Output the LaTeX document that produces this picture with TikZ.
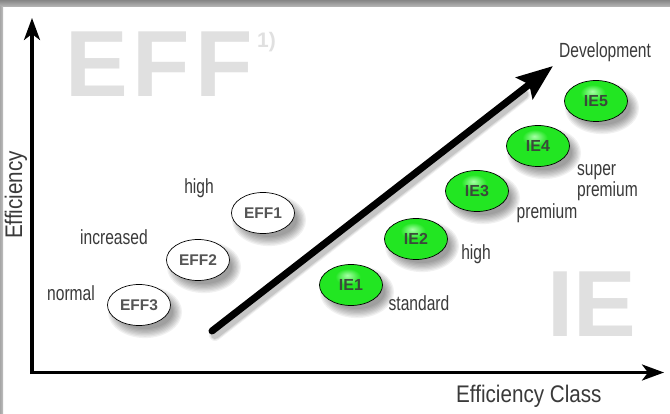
\documentclass[tikz,border=0pt]{standalone}
\usepackage{fontspec}
\setmainfont{Liberation Sans}
\newfontfamily\labelfont[FakeStretch=0.76]{Liberation Sans}
\newfontfamily\axisfont[FakeStretch=0.86]{Liberation Sans}
\newfontfamily\wmfont[LetterSpace=5.5]{Liberation Sans}
\usetikzlibrary{arrows.meta,shapes.geometric,calc}
\definecolor{txt}{HTML}{3A3A3A}
\definecolor{wm}{HTML}{E0E0E0}
\definecolor{efftxt}{HTML}{555555}
\definecolor{ietxt}{HTML}{3A4A3A}
\definecolor{gLight}{HTML}{A6FFA6}
\definecolor{gMain}{HTML}{22E622}
\definecolor{gDark}{HTML}{0B8A0B}
\definecolor{gEdge}{HTML}{054005}
\pgfdeclareradialshading{greenball}{\pgfpoint{-3bp}{12bp}}{color(0bp)=(gLight); color(10bp)=(gMain); color(30bp)=(gMain); color(44bp)=(gDark); color(60bp)=(gEdge)}
\tikzset{
  oval/.style={ellipse, draw=black, line width=0.7pt, minimum width=63pt, minimum height=41pt, inner sep=0pt},
  effoval/.style={oval, fill=white, text=efftxt, font=\bfseries\fontsize{15.5}{15.5}\selectfont},
  ieoval/.style={oval, shading=greenball, text=ietxt, font=\bfseries\fontsize{16}{16}\selectfont},
  lbl/.style={inner sep=0pt, text=txt, font=\labelfont\fontsize{20.5}{21}\selectfont},
  axlbl/.style={inner sep=0pt, text=txt, font=\axisfont\fontsize{24}{24}\selectfont},
  wmark/.style={inner sep=0pt, text=wm, font=\wmfont\bfseries\fontsize{94}{94}\selectfont},
  axisline/.style={line width=3.4pt, -{Stealth[length=22pt,width=16pt,inset=6pt]}},
}
\newcommand\ovalshadow[1]{%
  \foreach \r in {0,1,...,7}{\fill[black,opacity=0.055] ($(#1)+(6,7)$) ellipse ({28+1.3*\r} and {17+1.3*\r});}}
\begin{document}
\begin{tikzpicture}[x=1pt,y=-1pt]
\useasboundingbox (0,0) rectangle (670,414);
% frame
\fill[white] (0,0) rectangle (670,414);
\shade[top color=gray!95, bottom color=gray!55] (0,0) rectangle (670,7);
\shade[left color=gray!70, right color=gray!50] (0,7) rectangle (3,414);
% watermarks
\node[wmark, anchor=base west] (wmeff) at (65,97) {EFF};
\node[inner sep=0pt, text=wm, font=\bfseries\fontsize{21}{21}\selectfont, anchor=base west] (wmone) at (257,48) {1)};
\node[inner sep=0pt, text=wm, font=\bfseries\fontsize{94}{94}\selectfont, anchor=base west] (wmie) at (547,337) {IE};
% axes
\coordinate (origin) at (32,372.5);
\coordinate (ytip) at (32,18);
\coordinate (xtip) at (664,372.5);
\draw[axisline] ($(origin)+(0,1.7)$) -- (ytip);
\draw[axisline] ($(origin)+(-1.7,0)$) -- (xtip);
\node[axlbl, rotate=90, anchor=base] (ylab) at (22,195) {Efficiency};
\node[axlbl, anchor=base west] (xlab) at (456,402) {Efficiency Class};
% centres
\coordinate (c1) at (263,213);
\coordinate (c2) at (198,260);
\coordinate (c3) at (139,305);
\coordinate (d1) at (351,285);
\coordinate (d2) at (416,239);
\coordinate (d3) at (477,191);
\coordinate (d4) at (538,146);
\coordinate (d5) at (596,101);
\foreach \c in {c1,c2,c3,d1,d2,d3,d4,d5}{\ovalshadow{\c}}
% development arrow
\coordinate (devstart) at (212,331);
\coordinate (devend) at (553,66);
\foreach \w/\o in {12/0.06,10/0.08,8/0.10}{
  \draw[line width=\w pt, line cap=round, black, opacity=\o] ($(devstart)+(3,4)$) -- ($(devend)!40pt!(devstart)+(3,4)$);}
\draw[line width=7pt, line cap=round, -{Stealth[length=36pt,width=27pt,inset=6pt]}] (devstart) -- (devend);
\node[lbl, anchor=base west] (dev) at (559,58) {Development};
% EFF ovals
\node[effoval] (eff1) at (c1) {EFF1};
\node[effoval] (eff2) at (c2) {EFF2};
\node[effoval] (eff3) at (c3) {EFF3};
\node[lbl, anchor=base] (lhigh) at (199,194) {high};
\node[lbl, anchor=base] (lincr) at (114,245) {increased};
\node[lbl, anchor=base] (lnorm) at (71,301) {normal};
% IE ovals
\node[ieoval] (ie1) at (d1) {IE1};
\node[ieoval] (ie2) at (d2) {IE2};
\node[ieoval] (ie3) at (d3) {IE3};
\node[ieoval] (ie4) at (d4) {IE4};
\node[ieoval] (ie5) at (d5) {IE5};
\node[lbl, anchor=base] (lstd) at (419,311) {standard};
\node[lbl, anchor=base] (lhigh2) at (476,260) {high};
\node[lbl, anchor=base] (lprem) at (547,219) {premium};
\node[lbl, anchor=base west] (lsuper) at (577,176) {super};
\node[lbl, anchor=base west] (lsprem) at (577,197) {premium};
\end{tikzpicture}
\end{document}
